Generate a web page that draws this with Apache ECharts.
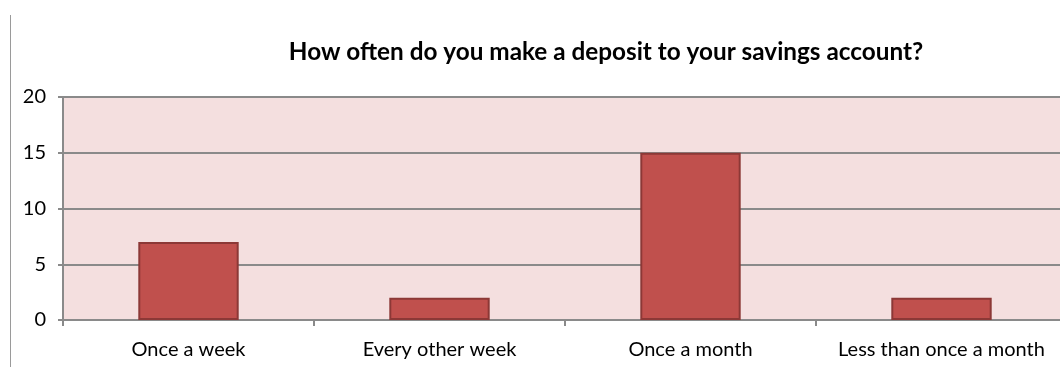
<!DOCTYPE html>
<html>
<head>
<meta charset="utf-8">
<script src="https://cdn.jsdelivr.net/npm/echarts@6/dist/echarts.min.js"></script>
<style>
  html, body { margin: 0; padding: 0; background: #ffffff; }
  #chart { width: 1060px; height: 367px; }
</style>
</head>
<body>
<div id="chart"></div>
<script>
// Survey answers: how often a deposit is made to a savings account
const titleText = 'How often do you make a deposit to your savings account?';
const categories = ['Once a week', 'Every other week', 'Once a month', 'Less than once a month'];
const counts = [7, 2, 15, 2];
const yTicks = { min: 0, max: 20, interval: 5 };

const chart = echarts.init(document.getElementById('chart'), null, { renderer: 'canvas' });

const axisGrey = '#8a8a8a';
const labelFont = "'Lato', 'Open Sans', sans-serif";

chart.setOption({
  animation: false,
  backgroundColor: '#ffffff',
  title: {
    text: titleText,
    left: 601,
    top: 35,
    textAlign: 'center',
    textStyle: {
      fontFamily: labelFont,
      fontWeight: 'bold',
      fontSize: 24.3,
      color: '#000000'
    }
  },
  grid: {
    left: 63,
    width: 1004,
    top: 97,
    height: 223,
    outerBoundsMode: 'none',
    containLabel: false,
    show: true,
    backgroundColor: '#f4dfdf',
    borderWidth: 0
  },
  xAxis: {
    type: 'category',
    data: categories,
    axisLine: { show: true, lineStyle: { color: axisGrey, width: 2 } },
    axisTick: { show: true, length: 6, lineStyle: { color: axisGrey, width: 2 } },
    axisLabel: {
      interval: 0,
      color: '#000000',
      fontFamily: labelFont,
      fontSize: 20,
      margin: 20
    }
  },
  yAxis: {
    type: 'value',
    min: yTicks.min,
    max: yTicks.max,
    interval: yTicks.interval,
    axisLine: { show: true, lineStyle: { color: axisGrey, width: 2 } },
    axisTick: { show: true, length: 5, lineStyle: { color: axisGrey, width: 2 } },
    splitLine: { show: true, lineStyle: { color: axisGrey, width: 2 } },
    axisLabel: {
      color: '#000000',
      fontFamily: labelFont,
      fontSize: 20,
      margin: 17
    }
  },
  series: [{
    type: 'bar',
    data: counts,
    barWidth: '40%',
    itemStyle: {
      color: '#c0504d',
      borderColor: '#8c3836',
      borderWidth: 2
    }
  }],
  graphic: [{
    type: 'line',
    shape: { x1: 10.5, y1: 15, x2: 10.5, y2: 367 },
    style: { stroke: '#9a9a9a', lineWidth: 1 },
    silent: true
  }]
});
</script>
</body>
</html>
